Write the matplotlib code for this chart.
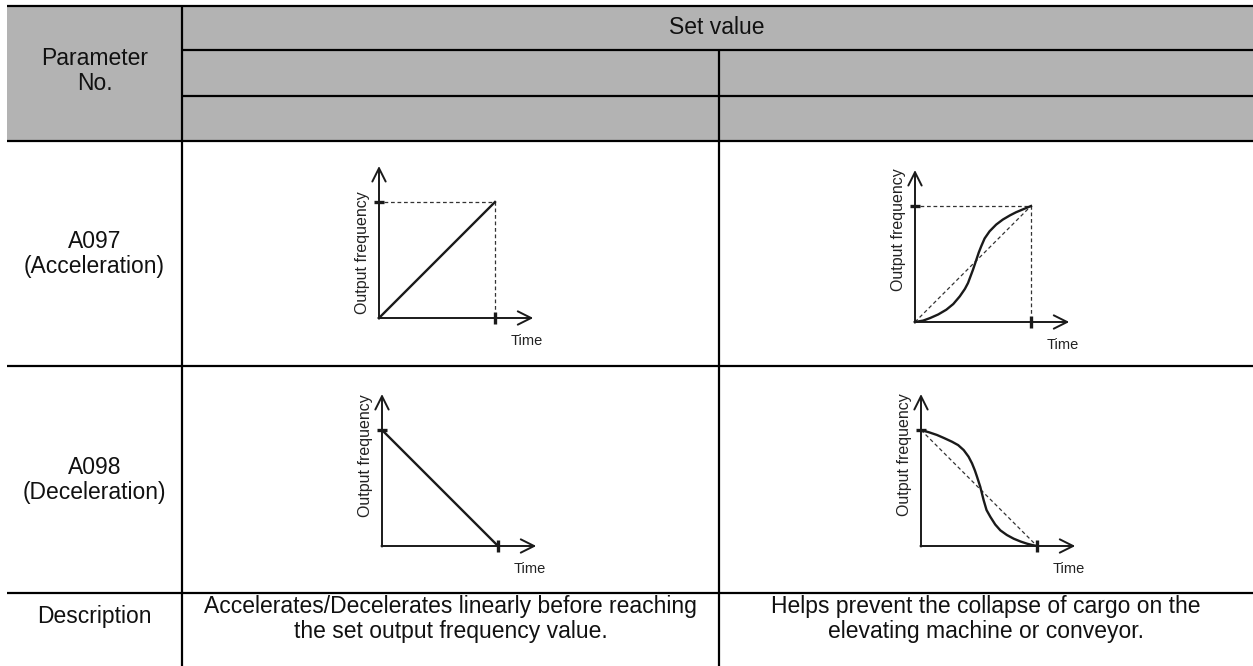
import matplotlib
matplotlib.use('Agg')
import matplotlib.pyplot as plt
from matplotlib.patches import Rectangle

plt.rcParams['font.family'] = ['Liberation Sans', 'DejaVu Sans']

# table texts
header_param = 'Parameter\nNo.'
header_set = 'Set value'
row_labels = ['A097\n(Acceleration)', 'A098\n(Deceleration)']
desc_label = 'Description'
descriptions = ['Accelerates/Decelerates linearly before reaching\nthe set output frequency value.',
                'Helps prevent the collapse of cargo on the\nelevating machine or conveyor.']
ylabel = 'Output frequency'
xlabel = 'Time'

lin_t = [0, 1]
lin_acc = [0, 1]
lin_dec = [1, 0]
s_acc_t = [0, 0.07, 0.13, 0.2, 0.27, 0.33, 0.386, 0.43, 0.457, 0.5, 0.529, 0.55,
           0.571, 0.6, 0.643, 0.7, 0.757, 0.82, 0.871, 0.94, 1.0]
s_acc_f = [0, 0.012, 0.034, 0.065, 0.106, 0.155, 0.221, 0.285, 0.336, 0.451, 0.537, 0.6,
           0.653, 0.72, 0.782, 0.84, 0.883, 0.92, 0.946, 0.975, 1.0]
s_dec_t = [0, 0.07, 0.138, 0.2, 0.267, 0.32, 0.368, 0.41, 0.44, 0.465, 0.483, 0.511,
           0.54, 0.565, 0.598, 0.64, 0.684, 0.74, 0.799, 0.86, 0.914, 0.96, 1.0]
s_dec_f = [1.0, 0.98, 0.957, 0.93, 0.899, 0.87, 0.827, 0.77, 0.712, 0.65, 0.597, 0.51,
           0.395, 0.31, 0.251, 0.185, 0.135, 0.095, 0.063, 0.038, 0.02, 0.008, 0]

W, H = 1253, 666
fig = plt.figure(figsize=(W / 100, H / 100), dpi=100)
ax = fig.add_axes([0, 0, 1, 1])
ax.set_xlim(0, W)
ax.set_ylim(H, 0)
ax.axis('off')

# grey header
ax.add_patch(Rectangle((7, 6), W - 7, 135, facecolor='#b3b3b3', edgecolor='none'))

lw = 1.6
for y, x0 in [(6, 7), (50, 182), (96, 182), (141, 7), (366, 7), (593, 7)]:
    ax.plot([x0, W], [y, y], color='black', lw=lw, solid_capstyle='butt')
ax.plot([182, 182], [6, H], color='black', lw=lw, solid_capstyle='butt')
ax.plot([719, 719], [50, H], color='black', lw=lw, solid_capstyle='butt')

fs = 16.5
kw = dict(ha='center', va='center', fontsize=fs, color='#111111', linespacing=1.15)
ax.text(94.5, 71, header_param, **kw)
ax.text(717, 28, header_set, **kw)
ax.text(94.5, 254, row_labels[0], **kw)
ax.text(94.5, 480, row_labels[1], **kw)
ax.text(94.5, 616, desc_label, **kw)
ax.text(450.5, 619, descriptions[0], **kw)
ax.text(986, 619, descriptions[1], **kw)


def diagram(ox, oy, t, f, ref_box, diag, lab_y):
    # ox, oy: pixel position of the origin, one unit = 116 px
    u = 116
    a = fig.add_axes([ox / W, 1 - oy / H, u / W, u / H])
    a.set_xlim(0, 1)
    a.set_ylim(0, 1)
    a.axis('off')
    ac = '#1a1a1a'
    a.annotate('', xy=(0, 1.31), xytext=(0, -0.005), annotation_clip=False,
               arrowprops=dict(arrowstyle='->', lw=1.4, color=ac, mutation_scale=24,
                               shrinkA=0, shrinkB=0))
    a.annotate('', xy=(1.33, 0), xytext=(-0.005, 0), annotation_clip=False,
               arrowprops=dict(arrowstyle='->', lw=1.4, color=ac, mutation_scale=24,
                               shrinkA=0, shrinkB=0))
    a.plot([-0.04, 0.04], [1, 1], color=ac, lw=2.4, clip_on=False, solid_capstyle='butt')
    a.plot([1, 1], [-0.05, 0.05], color=ac, lw=2.4, clip_on=False, solid_capstyle='butt')
    dkw = dict(color='#333333', lw=0.9, dashes=(3, 2.2), clip_on=False)
    if ref_box:
        a.plot([0.04, 1, 1], [1, 1, 0.05], **dkw)
    if diag:
        a.plot([0, 1], [f[0], f[-1]], **dkw)
    a.plot(t, f, color=ac, lw=1.7, clip_on=False, solid_joinstyle='round')
    a.text(-0.14, lab_y, ylabel, rotation=90, ha='center', va='center', fontsize=11.5,
           color='#222222')
    a.text(1.27, -0.2, xlabel, ha='center', va='center', fontsize=10.5, color='#222222')


diagram(379, 318, lin_t, lin_acc, True, False, 0.56)
diagram(915, 322, s_acc_t, s_acc_f, True, True, 0.80)
diagram(382, 546, lin_t, lin_dec, False, False, 0.78)
diagram(921, 546, s_dec_t, s_dec_f, False, True, 0.79)

fig.savefig('out.png', dpi=100)
